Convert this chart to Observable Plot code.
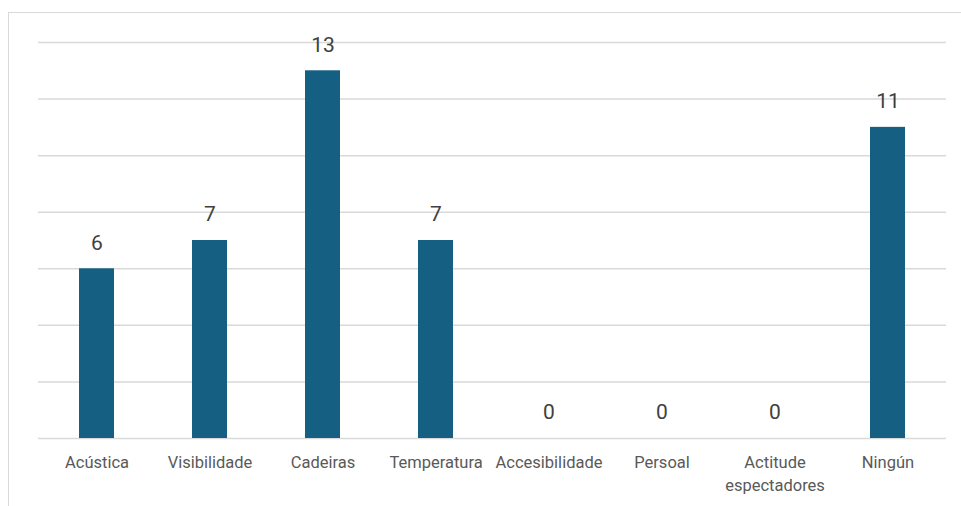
<!DOCTYPE html>
<html>
<head>
<meta charset="utf-8">
<script src="https://cdn.jsdelivr.net/npm/d3@7"></script>
<script src="https://cdn.jsdelivr.net/npm/@observablehq/plot@0.6"></script>
<style>
  html, body { margin: 0; padding: 0; background: #fff; }
  #wrap { position: relative; width: 961px; height: 506px; overflow: hidden; }
  #frame { position: absolute; left: 8px; top: 12px; width: 1000px; height: 600px; border: 1.5px solid #d9d9d9; box-sizing: border-box; }
  #chart { position: absolute; left: 0; top: 0; }
</style>
</head>
<body>
<div id="wrap"><div id="frame"></div><div id="chart"></div></div>
<script>
const categories = ["Acústica", "Visibilidade", "Cadeiras", "Temperatura", "Accesibilidade", "Persoal", "Actitude\nespectadores", "Ningún"];
const values = [6, 7, 13, 7, 0, 0, 0, 11];
const gridTicks = [0, 2, 4, 6, 8, 10, 12, 14];

const data = categories.map((c, i) => ({category: c, value: values[i]}));

const chart = Plot.plot({
  width: 961,
  height: 506,
  marginLeft: 38,
  marginRight: 15,
  marginTop: 42,
  marginBottom: 68,
  style: {fontFamily: "Roboto, 'Open Sans', sans-serif", background: "transparent"},
  x: {domain: categories, paddingInner: 0.69, paddingOuter: 0.345, label: null},
  y: {domain: [0, 14], label: null},
  marks: [
    Plot.gridY(gridTicks, {stroke: "#d9d9d9", strokeOpacity: 1, strokeWidth: 1.5}),
    Plot.barY(data, {x: "category", y: "value", fill: "#156082"}),
    Plot.text(data, {x: "category", y: "value", text: d => String(d.value), dy: -26, fontSize: 21, fill: "#404040"}),
    Plot.axisX({tickSize: 0, tickPadding: 13, fontSize: 16.5, color: "#595959", lineHeight: 1.4, textAnchor: "middle"}),
    Plot.axisY({ticks: [], tickSize: 0, label: null})
  ]
});
document.getElementById("chart").append(chart);
</script>
</body>
</html>
